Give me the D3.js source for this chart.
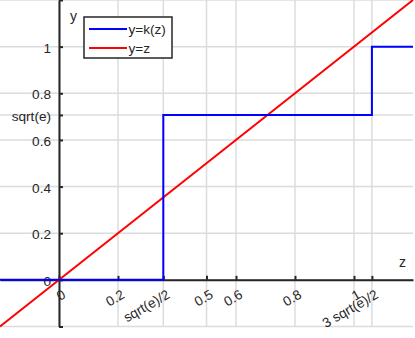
<!DOCTYPE html>
<html>
<head>
<meta charset="utf-8"/>
<script src="https://d3js.org/d3.v7.min.js"></script>
<style type="text/css">
body {
  margin: 0;
  overflow: hidden;
  background: #fff;
  font-family: "Liberation Sans", Arial, sans-serif;
}
.axis text { font-size: 13.6px; fill: #262626; font-family: "Liberation Sans", Arial, sans-serif; }
.axis line, .axis path { stroke: #262626; }
</style>
</head>
<body>
<div id="v"></div>
<script type="text/javascript">
// tick positions and labels (e = 0.5)
var xTicks = [0, 0.2, 0.3536, 0.5, 0.6, 0.8, 1, 1.0607];
var xLabels = ["0", "0.2", "sqrt(e)/2", "0.5", "0.6", "0.8", "1", "3 sqrt(e)/2"];
var yTicks = [-0.2, 0, 0.2, 0.4, 0.6, 0.7071, 0.8, 1, 1.2];
var yLabels = ["", "0", "0.2", "0.4", "0.6", "sqrt(e)", "0.8", "1", ""];

// series
var kZ = [-0.2, 0.3536, 0.3536, 1.0607, 1.0607, 1.2];
var kY = [0, 0, 0.7071, 0.7071, 1, 1];
var lineZ = [-0.2, 1.2];
var lineY = [-0.2, 1.2];
var seriesNames = ["y=k(z)", "y=z"];
var seriesColors = ["#0000ff", "#ff0000"];

var width = 415, height = 338;
var x = d3.scaleLinear().domain([-0.2, 1.2]).range([0, 413]);
var y = d3.scaleLinear().domain([-0.2, 1.2]).range([326.5, 0]);

var svg = d3.select("#v").append("svg")
  .attr("width", width)
  .attr("height", height);

// grid
svg.append("g").selectAll("line.vg")
  .data(xTicks).enter().append("line")
  .attr("x1", function(d) { return x(d); })
  .attr("x2", function(d) { return x(d); })
  .attr("y1", y(1.2)).attr("y2", y(-0.2))
  .attr("stroke", "#dcdcdc").attr("stroke-width", 1.5);
svg.append("g").selectAll("line.hg")
  .data(yTicks).enter().append("line")
  .attr("y1", function(d) { return y(d); })
  .attr("y2", function(d) { return y(d); })
  .attr("x1", x(-0.2)).attr("x2", x(1.2))
  .attr("stroke", "#dcdcdc").attr("stroke-width", 1.5);

// axes through the origin
var xAxis = svg.append("g").attr("class", "axis")
  .attr("transform", "translate(0," + y(0) + ")")
  .call(d3.axisBottom(x).tickValues(xTicks).tickSize(-4).tickSizeOuter(0)
    .tickFormat(function(d, i) { return xLabels[i]; }));
xAxis.select(".domain").attr("stroke-width", 2);
xAxis.selectAll(".tick line").attr("stroke-width", 2);
xAxis.selectAll(".tick text")
  .attr("y", 0)
  .attr("text-anchor", "end")
  .attr("transform", "translate(1,7) rotate(-30)")
  .attr("dy", "12px");

var yAxis = svg.append("g").attr("class", "axis")
  .attr("transform", "translate(" + x(0) + ",0)")
  .call(d3.axisLeft(y).tickValues(yTicks).tickSize(-4).tickSizeOuter(0).tickPadding(8)
    .tickFormat(function(d, i) { return yLabels[i]; }));
yAxis.select(".domain").attr("stroke-width", 2);
yAxis.selectAll(".tick line").attr("stroke-width", 2);
yAxis.selectAll(".tick text").attr("dy", "0.4em");

svg.append("text").attr("x", 70).attr("y", 21)
  .attr("font-size", 14).attr("fill", "#262626").text("y");
svg.append("text").attr("x", 399).attr("y", 267)
  .attr("font-size", 14).attr("fill", "#262626").text("z");

// lines
var line = d3.line().x(function(d) { return x(d[0]); }).y(function(d) { return y(d[1]); });
svg.append("path")
  .datum(d3.zip(lineZ, lineY))
  .attr("d", line).attr("fill", "none")
  .attr("stroke", seriesColors[1]).attr("stroke-width", 2);
svg.append("path")
  .datum(d3.zip(kZ, kY))
  .attr("d", line).attr("fill", "none")
  .attr("stroke", seriesColors[0]).attr("stroke-width", 2);

// legend
var lg = svg.append("g").attr("transform", "translate(84,17)");
lg.append("rect").attr("width", 88).attr("height", 41)
  .attr("fill", "#fff").attr("stroke", "#262626").attr("stroke-width", 1.5);
var items = lg.selectAll("g.item").data(seriesNames).enter().append("g")
  .attr("transform", function(d, i) { return "translate(0," + (12 + i * 19) + ")"; });
items.append("line").attr("x1", 5).attr("x2", 43).attr("y1", 0).attr("y2", 0)
  .attr("stroke", function(d, i) { return seriesColors[i]; }).attr("stroke-width", 2);
items.append("text").attr("x", 44.5).attr("y", 0).attr("dy", "0.36em")
  .attr("font-size", 13.6).attr("fill", "#262626").text(function(d) { return d; });
</script>
</body>
</html>
